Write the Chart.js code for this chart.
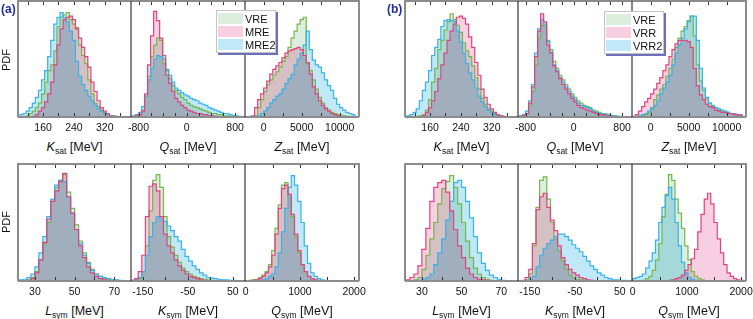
<!DOCTYPE html>
<html>
<head>
<meta charset="utf-8">
<script src="https://cdn.jsdelivr.net/npm/chart.js@4.4.1/dist/chart.umd.min.js"></script>
<style>
  body { margin: 0; background: #fff; }
  #fig { position: relative; width: 753px; height: 319px; overflow: hidden;
         font-family: "Liberation Sans", Arial, sans-serif; color: #111; }
  .host { position: absolute; }
  .xt { position: absolute; width: 140px; text-align: center; font-size: 12.5px;
        line-height: 14px; white-space: nowrap; }
  .xt sub { font-size: 8.5px; vertical-align: baseline; position: relative; top: 3px; }
  .pdf { position: absolute; font-size: 11px; transform: rotate(-90deg);
         transform-origin: center; width: 40px; text-align: center; line-height: 12px; }
  .tag { position: absolute; font-size: 12px; font-weight: bold; color: #1f2f9e; }
  .legend { position: absolute; background: #fff; border: 1px solid #c4c4c4;
            box-shadow: 2px 2px 0 #6e6ebd; }
  .legend .sw { position: absolute; left: 1px; width: 25px; height: 11px; }
  .legend .lb { position: absolute; left: 28px; font-size: 11px; line-height: 12px; }
</style>
</head>
<body>
<div id="fig"></div>
<script>
'use strict';

/* ============================================================
   DATA – histogram bins [first edge, bin width]
   ============================================================ */
const KSAT_BINS = [100, 8];
const QSAT_BINS = [-900, 50];
const ZSAT_BINS = [-2400, 400];
const LSYM_BINS = [22, 2];
const KSYM_BINS = [-176, 8];
const QSYM_BINS = [0, 60];

/* axis ranges, labelled ticks, tick spacing */
const KSAT_RANGE = [95, 388];     const KSAT_LABELS = [160, 240, 320];     const KSAT_STEP = 40;
const QSAT_RANGE = [-925, 965];   const QSAT_LABELS = [-800, 0, 800];      const QSAT_STEP = 200;
const ZSAT_RANGE = [-2460, 12540];const ZSAT_LABELS = [0, 5000, 10000];    const ZSAT_STEP = 2500;
const LSYM_RANGE = [21.5, 78.4];  const LSYM_LABELS = [30, 50, 70];        const LSYM_STEP = 10;
const KSYM_RANGE = [-176, 77];    const KSYM_LABELS = [-150, -50, 50];     const KSYM_STEP = 50;
const QSYM_RANGE = [-13, 2090];   const QSYM_LABELS = [0, 1000, 2000];     const QSYM_STEP = 500;

const LEGEND_A = ['VRE', 'MRE', 'MRE2'];
const LEGEND_B = ['VRE', 'VRR', 'VRR2'];

/* ---------- (a) K_sat ---------- */
const A_KSAT_VRE  = [0,0,0,1,3,5,8,12,20,30,40,45,57,78,86,88,90,84,80,77,62,53,46,32,20,12,9,6,4,2,1,0,0,0,0];
const A_KSAT_MRE  = [0,0,0,0,0,0.5,2,5,8,13,20,30,45,62,76,84,86,87,84,76,68,60,52,43,30,22,14,8,5,3,1,0.5,0,0,0];
const A_KSAT_MRE2 = [1,2,3,5,8,12,17,23,32,40,52,66,80,86,90,86,82,74,66,48,35,28,23,18,14,10,7,5,3,2,1,1,0.5,0,0];
/* ---------- (a) Q_sat ---------- */
const A_QSAT_VRE  = [0,0.5,1,2,6,18,35,52,62,68,66,46,40,33,27,23,20,17,15,12,10,9,8,7,6,5,4,3,3,2,2,1,1,0.5,0,0,0];
const A_QSAT_MRE  = [0,0.5,1,2,5,20,45,70,91,83,68,53,36,29,22,16,13,10,8,6,5,4,3,3,2,2,1,1,0.5,0,0,0,0,0,0,0,0];
const A_QSAT_MRE2 = [0.5,1,2,4,9,18,32,42,50,53,52,50,41,36,30,25,23,21,19,18,16,15,14,12,11,10,8,7,6,5,4,3,3,2,1,1,0.5];
/* ---------- (a) Z_sat ---------- */
const A_ZSAT_VRE  = [0,0,0,0,1,8,15,22,28,32,36,39,43,48,52,60,68,74,80,84,86,46,40,32,24,17,12,8,6,4,3,2,1.5,1,0.5,0,0];
const A_ZSAT_MRE  = [0,0,0,1,8,15,20,25,31,37,41,44,47,51,55,57,58,59,60,58,53,47,37,26,20,14,10,7,5,3,2,1,0,0,0,0,0];
const A_ZSAT_MRE2 = [0,0,0,0,0.5,1,3,5,8,12,15,18,20,24,29,33,37,45,50,55,62,74,58,49,45,43,38,32,27,23,16,11,8,6,4,3,2];
/* ---------- (a) L_sym ---------- */
const A_LSYM_VRE  = [0,0,0,1,3,8,18,32,50,68,80,86,91,76,62,48,34,24,16,10,6,4,2,1.5,1,0.5,0,0];
const A_LSYM_MRE  = [0,0,0,0.5,2,7,18,33,53,68,77,85,92,72,58,44,30,20,12,7,4,2,1,0.5,0,0,0,0];
const A_LSYM_MRE2 = [0.5,1,1.5,3,6,12,24,38,55,70,82,86,85,72,58,44,32,22,15,9,6,4,3,2,1,1,0.5,0];
/* ---------- (a) K_sym ---------- */
const A_KSYM_VRE  = [0,0,0.5,2,8,30,60,86,91,80,55,38,29,22,16,11,8,6,4,3,2,1.5,1,0.5,0,0,0,0,0,0,0];
const A_KSYM_MRE  = [0,0.5,2,8,22,55,81,83,77,55,40,30,24,18,13,9,6,4,3,2,1,0.5,0,0,0,0,0,0,0,0,0];
const A_KSYM_MRE2 = [0,0.5,1,3,8,22,38,50,55,53,51,47,43,38,34,27,21,17,13,10,7,5,3,2.5,2,1.5,1,1,0.5,0.5,0];
/* ---------- (a) Q_sym ---------- */
const A_QSYM_VRE  = [0,0,0.5,1,1.5,3,5,8,14,26,45,65,82,84,72,55,38,24,14,8,4,2,1,0.5,0,0,0,0,0,0,0,0,0,0,0];
const A_QSYM_MRE  = [0,0,0,0.5,1,2,4,7,12,22,40,62,79,82,74,57,40,26,14,8,4,2,1,0,0,0,0,0,0,0,0,0,0,0,0];
const A_QSYM_MRE2 = [0,0,0,0,0,0,1,2,4,6,12,24,42,62,80,90,82,68,50,30,15,7,4,2,1,0.5,0,0,0,0,0,0,0,0,0];

/* ---------- (b) K_sat ---------- */
const B_KSAT_VRE  = [0,0,0,0,0.5,1,2,6,15,30,42,58,66,75,82,89,84,79,73,64,57,52,44,34,24,16,11,7,5,3,1.5,1,0,0,0];
const B_KSAT_VRR  = [0,0,0,0,0,0,1,4,8,14,22,33,45,55,66,74,80,86,87,85,80,69,60,47,36,24,17,11,7,4,2,1,0.5,0,0];
const B_KSAT_VRR2 = [0.5,1,2,4,7,14,23,30,40,53,60,67,78,83,84,83,82,74,65,55,46,38,32,25,18,13,9,6,4,2,1,0.5,0,0,0];
/* ---------- (b) Q_sat ---------- */
const B_QSAT_VRE  = [0,0.5,1,3,10,22,45,68,79,78,66,58,48,42,36,32,28,24,20,17,14,12,10,9,8,6,5,4,3,3,2,1.5,1,0.5,0,0,0];
const B_QSAT_VRR  = [0,0.5,1,3,12,26,52,74,89,82,62,55,44,39,33,28,24,20,16,13,10,8,7,6,5,4,3,2,2,1,1,0.5,0,0,0,0,0];
const B_QSAT_VRR2 = [0.5,1,2,5,14,28,55,76,84,80,65,56,45,40,34,30,26,22,18,15,12,10,9,8,7,5,4,3,3,2,2,1,1,0.5,0.5,0,0];
/* ---------- (b) Z_sat ---------- */
const B_ZSAT_VRE  = [0,0,0,0.5,1,2,4,8,15,19,24,28,35,42,50,60,68,74,78,83,87,70,45,31,23,16,12,10,8,6,5,4,4,3,3,2,2];
const B_ZSAT_VRR  = [0,0.5,2,5,9,13,16,20,24,29,34,40,45,52,58,63,66,66,66,65,60,42,27,19,15,11,9,8,6,5,4,4,3,3,2,2,1.5];
const B_ZSAT_VRR2 = [0,0,0.5,1,2,3,5,7,10,14,20,25,30,36,45,55,62,68,76,82,87,87,66,42,25,17,12,9,8,7,6,5,4,3,3,2,2];
/* ---------- (b) L_sym ---------- */
const B_LSYM_VRE  = [0,0,0,1,3,10,22,36,50,66,79,85,90,80,66,50,34,20,11,6,3,1.5,0.5,0,0,0,0,0];
const B_LSYM_VRR  = [0.5,1,3,6,13,27,45,68,80,84,86,76,60,44,30,20,11,6,3,1.5,1,0.5,0,0,0,0,0,0];
const B_LSYM_VRR2 = [0,0,0,0,0.5,1.5,3,6,14,24,36,52,68,84,86,80,68,54,38,24,15,9,5,3,1.5,0.5,0,0];
/* ---------- (b) K_sym ---------- */
const B_KSYM_VRE  = [0,0,0,1,6,30,63,86,89,70,50,36,26,17,10,5,3,1.5,1,0.5,0,0,0,0,0,0,0,0,0,0,0];
const B_KSYM_VRR  = [0,0,0.5,3,10,32,61,72,75,63,52,43,30,20,14,10,7,5,3,2,1,0.5,0,0,0,0,0,0,0,0,0];
const B_KSYM_VRR2 = [0,0,0,0.5,1,4,12,22,28,32,35,38,40,40,38,35,31,28,25,21,17,13,10,7,5,3,2,1,1,0.5,0.5];
/* ---------- (b) Q_sym ---------- */
const B_QSYM_VRE  = [0,0,0,0,0.5,2,4,9,18,32,55,74,91,86,70,58,45,30,18,8,4,2,1,0,0,0,0,0,0,0,0,0,0,0,0];
const B_QSYM_VRR  = [0,0,0,0,0,0,0,0,0,0,0,0,0.5,1,2,3,5,9,14,19,27,42,57,70,75,66,50,36,24,14,7,4,2,1,0.5];
const B_QSYM_VRR2 = [0.5,2,3,4,6,11,17,24,35,50,63,73,80,70,50,30,16,7,3,1.5,0.5,0,0,0,0,0,0,0,0,0,0,0,0,0,0];

/* ============================================================
   STYLE / LAYOUT
   ============================================================ */
/* order in every panel: VRE (green), MRE|VRR (pink), MRE2|VRR2 (blue) */
const LINE_COL = ['#74b84c', '#e0447e', '#38b2e8'];
const FILL_COL = ['rgb(220,238,222)', 'rgb(248,206,226)', 'rgb(192,232,248)'];

const MARGIN = 26, PAD_TOP = 2, PAD_BOTTOM = 22;
const COLS = { a: [18, 131, 245, 359], b: [405, 518, 632, 746] };
const ROWS = [[1, 117], [164, 281]];

const PANELS = [
  { grp: 'a', row: 0, col: 0, bins: KSAT_BINS, range: KSAT_RANGE, labels: KSAT_LABELS, step: KSAT_STEP, sym: 'K', sub: 'sat', series: [A_KSAT_VRE, A_KSAT_MRE, A_KSAT_MRE2] },
  { grp: 'a', row: 0, col: 1, bins: QSAT_BINS, range: QSAT_RANGE, labels: QSAT_LABELS, step: QSAT_STEP, sym: 'Q', sub: 'sat', series: [A_QSAT_VRE, A_QSAT_MRE, A_QSAT_MRE2] },
  { grp: 'a', row: 0, col: 2, bins: ZSAT_BINS, range: ZSAT_RANGE, labels: ZSAT_LABELS, step: ZSAT_STEP, sym: 'Z', sub: 'sat', series: [A_ZSAT_VRE, A_ZSAT_MRE, A_ZSAT_MRE2] },
  { grp: 'a', row: 1, col: 0, bins: LSYM_BINS, range: LSYM_RANGE, labels: LSYM_LABELS, step: LSYM_STEP, sym: 'L', sub: 'sym', series: [A_LSYM_VRE, A_LSYM_MRE, A_LSYM_MRE2] },
  { grp: 'a', row: 1, col: 1, bins: KSYM_BINS, range: KSYM_RANGE, labels: KSYM_LABELS, step: KSYM_STEP, sym: 'K', sub: 'sym', series: [A_KSYM_VRE, A_KSYM_MRE, A_KSYM_MRE2] },
  { grp: 'a', row: 1, col: 2, bins: QSYM_BINS, range: QSYM_RANGE, labels: QSYM_LABELS, step: QSYM_STEP, sym: 'Q', sub: 'sym', series: [A_QSYM_VRE, A_QSYM_MRE, A_QSYM_MRE2] },
  { grp: 'b', row: 0, col: 0, bins: KSAT_BINS, range: KSAT_RANGE, labels: KSAT_LABELS, step: KSAT_STEP, sym: 'K', sub: 'sat', series: [B_KSAT_VRE, B_KSAT_VRR, B_KSAT_VRR2] },
  { grp: 'b', row: 0, col: 1, bins: QSAT_BINS, range: QSAT_RANGE, labels: QSAT_LABELS, step: QSAT_STEP, sym: 'Q', sub: 'sat', series: [B_QSAT_VRE, B_QSAT_VRR, B_QSAT_VRR2] },
  { grp: 'b', row: 0, col: 2, bins: ZSAT_BINS, range: ZSAT_RANGE, labels: ZSAT_LABELS, step: ZSAT_STEP, sym: 'Z', sub: 'sat', series: [B_ZSAT_VRE, B_ZSAT_VRR, B_ZSAT_VRR2] },
  { grp: 'b', row: 1, col: 0, bins: LSYM_BINS, range: LSYM_RANGE, labels: LSYM_LABELS, step: LSYM_STEP, sym: 'L', sub: 'sym', series: [B_LSYM_VRE, B_LSYM_VRR, B_LSYM_VRR2] },
  { grp: 'b', row: 1, col: 1, bins: KSYM_BINS, range: KSYM_RANGE, labels: KSYM_LABELS, step: KSYM_STEP, sym: 'K', sub: 'sym', series: [B_KSYM_VRE, B_KSYM_VRR, B_KSYM_VRR2] },
  { grp: 'b', row: 1, col: 2, bins: QSYM_BINS, range: QSYM_RANGE, labels: QSYM_LABELS, step: QSYM_STEP, sym: 'Q', sub: 'sym', series: [B_QSYM_VRE, B_QSYM_VRR, B_QSYM_VRR2] }
];

/* ============================================================
   HELPERS
   ============================================================ */

/* histogram -> step points at bin edges (closing point drops to 0) */
function histPoints(bins, values) {
  const pts = values.map(function (v, i) { return { x: bins[0] + i * bins[1], y: v }; });
  pts.push({ x: bins[0] + values.length * bins[1], y: 0 });
  return pts;
}

/* fills are multiplied together (overlap turns slate), outlines drawn normally */
const blendPlugin = {
  id: 'blend',
  beforeDatasetsDraw: function (chart) {
    chart.ctx.save();
    chart.ctx.globalCompositeOperation = 'multiply';
  },
  beforeDatasetDraw: function (chart, args) {
    if (chart.data.datasets[args.index].outline) chart.ctx.globalCompositeOperation = 'source-over';
  },
  afterDatasetsDraw: function (chart) { chart.ctx.restore(); }
};

/* frame, inward ticks on top + bottom, tick labels */
const framePlugin = {
  id: 'frame',
  afterDraw: function (chart, args, o) {
    const ctx = chart.ctx, a = chart.chartArea, xs = chart.scales.x;
    const w = a.right - a.left, h = a.bottom - a.top;
    ctx.save();

    ctx.strokeStyle = '#333';
    ctx.lineWidth = 1;
    const first = Math.ceil(xs.min / o.step) * o.step;
    for (let v = first; v <= xs.max; v += o.step) {
      const px = Math.round(xs.getPixelForValue(v)) + 0.5;
      if (px < a.left + 2 || px > a.right - 2) continue;
      ctx.beginPath();
      ctx.moveTo(px, a.top); ctx.lineTo(px, a.top + 4);
      ctx.moveTo(px, a.bottom); ctx.lineTo(px, a.bottom - 4);
      ctx.stroke();
    }

    ctx.fillStyle = '#8c8c8c';
    ctx.fillRect(a.left, a.top - 1, w, 2);
    ctx.fillRect(a.left, a.bottom - 1, w, 2);
    if (o.col === 0) ctx.fillRect(a.left - 1, a.top - 1, 2, h + 1);
    if (o.col === 2) ctx.fillRect(a.right - 1, a.top - 1, 2, h + 1);
    if (o.col > 0) { ctx.fillStyle = '#111'; ctx.fillRect(a.left - 0.5, a.top, 1, h); }

    ctx.fillStyle = '#111';
    ctx.font = '10.5px "Liberation Sans", Arial, sans-serif';
    ctx.textAlign = 'center';
    ctx.textBaseline = 'middle';
    o.labels.forEach(function (v) {
      ctx.fillText(String(v), xs.getPixelForValue(v), a.bottom + 11);
    });
    ctx.restore();
  }
};

/* ============================================================
   BUILD
   ============================================================ */
const fig = document.getElementById('fig');

function addPanel(p) {
  const x0 = COLS[p.grp][p.col], x1 = COLS[p.grp][p.col + 1];
  const y0 = ROWS[p.row][0], y1 = ROWS[p.row][1];
  const W = (x1 - x0) + 2 * MARGIN, H = (y1 - y0) + PAD_TOP + PAD_BOTTOM;

  const canvas = document.createElement('canvas');
  canvas.className = 'host';
  canvas.width = W; canvas.height = H;
  canvas.style.left = (x0 - MARGIN) + 'px';
  canvas.style.top = (y0 - PAD_TOP) + 'px';
  canvas.style.width = W + 'px'; canvas.style.height = H + 'px';
  fig.appendChild(canvas);

  const outlines = [1, 2, 0].map(function (k) {
    return { data: histPoints(p.bins, p.series[k]), outline: true, borderColor: LINE_COL[k],
             borderWidth: 1.2, fill: false, stepped: 'after', pointRadius: 0 };
  });
  const fills = [0, 1, 2].map(function (k) {
    return { data: histPoints(p.bins, p.series[k]), borderColor: 'rgba(0,0,0,0)', borderWidth: 0,
             backgroundColor: FILL_COL[k], fill: 'origin', stepped: 'after', pointRadius: 0 };
  });

  new Chart(canvas, {
    type: 'line',
    data: { datasets: outlines.concat(fills) },
    options: {
      responsive: false,
      animation: false,
      events: [],
      layout: { padding: { left: MARGIN, right: MARGIN, top: PAD_TOP, bottom: PAD_BOTTOM } },
      plugins: {
        legend: { display: false },
        tooltip: { enabled: false },
        frame: { labels: p.labels, step: p.step, col: p.col }
      },
      scales: {
        x: { type: 'linear', min: p.range[0], max: p.range[1], display: false },
        y: { min: 0, max: 100, display: false }
      }
    },
    plugins: [blendPlugin, framePlugin]
  });

  /* axis title below the panel */
  const t = document.createElement('div');
  t.className = 'xt';
  t.style.left = ((x0 + x1) / 2 - 70) + 'px';
  t.style.top = (y1 + 23) + 'px';
  t.innerHTML = '<i>' + p.sym + '</i><sub>' + p.sub + '</sub> [MeV]';
  fig.appendChild(t);
}

function addText(cls, html, left, top) {
  const d = document.createElement('div');
  d.className = cls;
  d.innerHTML = html;
  d.style.left = left + 'px';
  d.style.top = top + 'px';
  fig.appendChild(d);
  return d;
}

function addLegend(names, left, top) {
  const box = addText('legend', '', left, top);
  box.style.width = '58px';
  box.style.height = '41px';
  names.forEach(function (n, k) {
    const sw = document.createElement('div');
    sw.className = 'sw';
    sw.style.top = (2 + k * 13) + 'px';
    sw.style.background = FILL_COL[k];
    box.appendChild(sw);
    const lb = document.createElement('div');
    lb.className = 'lb';
    lb.style.top = (2 + k * 13) + 'px';
    lb.textContent = n;
    box.appendChild(lb);
  });
}

PANELS.forEach(addPanel);

addText('pdf', 'PDF', -14, 54);
addText('pdf', 'PDF', -14, 216);
addText('tag', '(a)', 1, 2);
addText('tag', '(b)', 387, 2);
addLegend(LEGEND_A, 216, 10);
addLegend(LEGEND_B, 604, 11);
</script>
</body>
</html>
